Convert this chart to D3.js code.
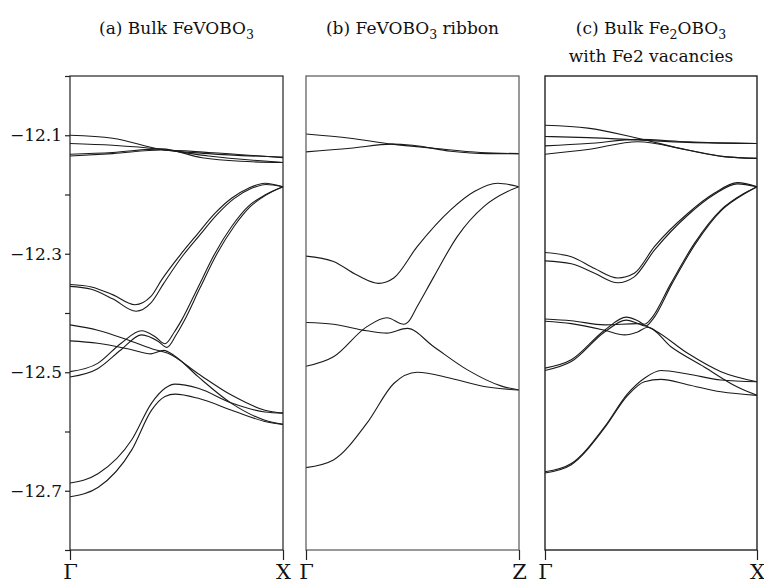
<!DOCTYPE html>
<html>
<head>
<meta charset="utf-8">
<script src="https://cdn.jsdelivr.net/npm/d3@7"></script>
<style>
  body { margin: 0; background: #fff; }
  svg { display: block; }
</style>
</head>
<body>
<svg id="chart" width="764" height="585"></svg>
<script>

// energy ticks (Ry)
const yTicks = [-12.0, -12.1, -12.2, -12.3, -12.4, -12.5, -12.6, -12.7, -12.8];
const yLabelled = [-12.1, -12.3, -12.5, -12.7];

// k-path labels per panel
const kLabelsA = ["Γ", "X"];
const kLabelsB = ["Γ", "Z"];
const kLabelsC = ["Γ", "X"];

// (a) Bulk FeVOBO3, bands as [k, E]
const bandsA = [
  [[0,-12.100],[0.2,-12.105],[0.43,-12.124],[0.65,-12.131],[1,-12.137]],
  [[0,-12.114],[0.2,-12.117],[0.43,-12.124],[0.65,-12.135],[1,-12.146]],
  [[0,-12.132],[0.2,-12.129],[0.43,-12.123],[0.62,-12.138],[0.8,-12.144],[1,-12.146]],
  [[0,-12.135],[0.2,-12.131],[0.43,-12.125],[0.65,-12.129],[1,-12.138]],
  [[0,-12.352],[0.1,-12.356],[0.2,-12.369],[0.305,-12.386],[0.38,-12.372],[0.43,-12.344],[0.524,-12.299],[0.60,-12.266],[0.68,-12.232],[0.76,-12.206],[0.84,-12.189],[0.915,-12.181],[1,-12.187]],
  [[0,-12.355],[0.1,-12.360],[0.2,-12.376],[0.31,-12.397],[0.38,-12.383],[0.44,-12.350],[0.53,-12.303],[0.61,-12.268],[0.69,-12.234],[0.77,-12.207],[0.85,-12.190],[0.92,-12.183],[1,-12.187]],
  [[0,-12.420],[0.13,-12.429],[0.29,-12.448],[0.40,-12.462],[0.46,-12.468],[0.60,-12.502],[0.76,-12.539],[0.915,-12.564],[1,-12.569]],
  [[0,-12.447],[0.13,-12.451],[0.29,-12.462],[0.38,-12.469],[0.44,-12.463],[0.49,-12.472],[0.60,-12.507],[0.76,-12.553],[0.915,-12.581],[1,-12.588]],
  [[0,-12.499],[0.13,-12.485],[0.24,-12.451],[0.336,-12.430],[0.40,-12.440],[0.446,-12.452],[0.49,-12.432],[0.524,-12.412],[0.602,-12.356],[0.681,-12.299],[0.759,-12.254],[0.837,-12.220],[0.915,-12.201],[1,-12.187]],
  [[0,-12.508],[0.13,-12.494],[0.24,-12.462],[0.336,-12.437],[0.415,-12.448],[0.455,-12.458],[0.50,-12.436],[0.535,-12.414],[0.61,-12.358],[0.69,-12.300],[0.77,-12.254],[0.845,-12.221],[0.92,-12.201],[1,-12.187]],
  [[0,-12.687],[0.133,-12.671],[0.29,-12.614],[0.383,-12.552],[0.446,-12.527],[0.493,-12.520],[0.602,-12.527],[0.759,-12.552],[0.915,-12.567],[1,-12.569]],
  [[0,-12.710],[0.133,-12.694],[0.29,-12.631],[0.383,-12.564],[0.446,-12.541],[0.493,-12.537],[0.602,-12.544],[0.759,-12.564],[0.915,-12.583],[1,-12.588]]
];

// (b) FeVOBO3 ribbon
const bandsB = [
  [[0,-12.098],[0.208,-12.105],[0.404,-12.115],[0.6,-12.122],[0.82,-12.129],[1,-12.131]],
  [[0,-12.128],[0.208,-12.122],[0.404,-12.115],[0.5,-12.117],[0.68,-12.127],[0.85,-12.131],[1,-12.131]],
  [[0,-12.304],[0.129,-12.313],[0.239,-12.336],[0.341,-12.350],[0.412,-12.341],[0.522,-12.288],[0.679,-12.226],[0.79,-12.195],[0.9,-12.181],[1,-12.187]],
  [[0,-12.490],[0.129,-12.474],[0.286,-12.423],[0.38,-12.408],[0.459,-12.419],[0.48,-12.415],[0.522,-12.389],[0.6,-12.339],[0.71,-12.271],[0.836,-12.220],[0.946,-12.195],[1,-12.187]],
  [[0,-12.416],[0.129,-12.419],[0.286,-12.430],[0.38,-12.434],[0.475,-12.426],[0.6,-12.457],[0.758,-12.496],[0.915,-12.523],[1,-12.530]],
  [[0,-12.661],[0.129,-12.648],[0.286,-12.586],[0.412,-12.519],[0.522,-12.500],[0.679,-12.510],[0.836,-12.524],[1,-12.530]]
];

// (c) Bulk Fe2OBO3 with Fe2 vacancies
const bandsC = [
  [[0,-12.083],[0.202,-12.088],[0.438,-12.105],[0.673,-12.125],[0.845,-12.136],[1,-12.139]],
  [[0,-12.102],[0.202,-12.104],[0.438,-12.108],[0.673,-12.112],[1,-12.114]],
  [[0,-12.118],[0.202,-12.114],[0.438,-12.107],[0.673,-12.111],[1,-12.114]],
  [[0,-12.132],[0.202,-12.124],[0.438,-12.111],[0.673,-12.125],[0.845,-12.136],[1,-12.139]],
  [[0,-12.298],[0.124,-12.305],[0.234,-12.325],[0.343,-12.341],[0.421,-12.333],[0.516,-12.288],[0.673,-12.232],[0.798,-12.198],[0.908,-12.180],[1,-12.187]],
  [[0,-12.312],[0.124,-12.317],[0.234,-12.333],[0.343,-12.349],[0.421,-12.339],[0.516,-12.294],[0.673,-12.235],[0.798,-12.200],[0.908,-12.182],[1,-12.187]],
  [[0,-12.493],[0.124,-12.479],[0.281,-12.429],[0.383,-12.407],[0.437,-12.413],[0.469,-12.419],[0.50,-12.410],[0.594,-12.350],[0.704,-12.283],[0.83,-12.226],[0.94,-12.198],[1,-12.187]],
  [[0,-12.497],[0.124,-12.482],[0.281,-12.432],[0.383,-12.412],[0.44,-12.418],[0.475,-12.422],[0.51,-12.410],[0.60,-12.350],[0.71,-12.283],[0.835,-12.226],[0.945,-12.198],[1,-12.187]],
  [[0,-12.410],[0.124,-12.413],[0.281,-12.420],[0.437,-12.418],[0.516,-12.429],[0.673,-12.468],[0.83,-12.499],[1,-12.516]],
  [[0,-12.414],[0.124,-12.418],[0.281,-12.429],[0.375,-12.437],[0.437,-12.432],[0.485,-12.424],[0.594,-12.457],[0.751,-12.491],[0.908,-12.525],[1,-12.539]],
  [[0,-12.668],[0.124,-12.654],[0.281,-12.592],[0.39,-12.536],[0.469,-12.510],[0.547,-12.497],[0.673,-12.503],[0.83,-12.513],[1,-12.516]],
  [[0,-12.670],[0.124,-12.656],[0.281,-12.594],[0.39,-12.539],[0.469,-12.516],[0.547,-12.512],[0.673,-12.521],[0.83,-12.533],[1,-12.539]]
];

const panels = [
  {x0: 70,  x1: 283, bands: bandsA, kLabels: kLabelsA, title: [["(a) Bulk FeVOBO", "3", ""]]},
  {x0: 306, x1: 519, bands: bandsB, kLabels: kLabelsB, title: [["(b) FeVOBO", "3", " ribbon"]]},
  {x0: 545, x1: 757, bands: bandsC, kLabels: kLabelsC, title: [["(c) Bulk Fe", "2", "OBO", "3"], ["with Fe2 vacancies"]]}
];

const serif = "DejaVu Serif";
const plotTop = 76, plotBottom = 550;
const svg = d3.select("#chart");

var y_scale = d3.scaleLinear()
    .domain([-12.8, -12.0])
    .range([plotBottom, plotTop]);

panels.forEach(function(p, ix) {

  var x_scale = d3.scaleLinear()
      .domain([0, 1])
      .range([p.x0, p.x1]);

  const g = svg.append("g").attr("class", "panel-" + ix);

  // bands
  p.bands.forEach(function(b) {
    g.append("path")
      .datum(b)
      .attr("fill", "none")
      .attr("stroke", "#1a1a1a")
      .attr("stroke-width", 1.1)
      .attr("d", d3.line()
        .curve(d3.curveMonotoneX)
        .x(d => x_scale(d[0]))
        .y(d => y_scale(d[1]))
      );
  });

  // frame
  g.append("rect")
    .attr("x", p.x0)
    .attr("y", plotTop)
    .attr("width", p.x1 - p.x0)
    .attr("height", plotBottom - plotTop)
    .attr("fill", "none")
    .attr("stroke", ix == 1 ? "#555" : "#222")
    .attr("stroke-width", ix == 2 ? 1.4 : 1.2);

  // k-point ticks + labels
  const xAxis = g.append("g")
    .attr("transform", "translate(0," + plotBottom + ")")
    .call(d3.axisBottom(x_scale)
      .tickValues([0, 1])
      .tickSize(10)
      .tickPadding(4)
      .tickFormat((d, i) => p.kLabels[i]));
  xAxis.attr("font-family", serif);
  xAxis.select(".domain").remove();
  xAxis.selectAll("line").attr("stroke", "#222").attr("stroke-width", 1.2);
  xAxis.selectAll("text")
    .attr("font-size", 21)
    .attr("fill", "#111");

  // titles
  const cx = (p.x0 + p.x1) / 2;
  p.title.forEach(function(line, li) {
    const t = g.append("text")
      .attr("x", cx)
      .attr("y", 34 + li * 28)
      .attr("text-anchor", "middle")
      .attr("font-family", serif)
      .attr("font-size", 17)
      .attr("fill", "#111");
    line.forEach(function(part, pi) {
      const isSub = pi % 2 == 1;
      t.append("tspan")
        .attr("dy", pi == 0 ? 0 : (isSub ? 5 : -5))
        .attr("font-size", isSub ? 12.5 : 17)
        .text(part);
    });
  });

  // energy axis on the first panel only
  if (ix == 0) {
    const yAxis = g.append("g")
      .attr("transform", "translate(" + p.x0 + ",0)")
      .call(d3.axisLeft(y_scale)
        .tickValues(yTicks)
        .tickSize(5)
        .tickPadding(3)
        .tickFormat(d => yLabelled.some(v => Math.abs(v - d) < 1e-9) ? d3.format(".1f")(d) : ""));
    yAxis.attr("font-family", serif);
    yAxis.select(".domain").remove();
    yAxis.selectAll("line").attr("stroke", "#222").attr("stroke-width", 1.2);
    yAxis.selectAll("text")
      .attr("font-size", 17)
      .attr("fill", "#111");
  }
});

</script>
</body>
</html>
